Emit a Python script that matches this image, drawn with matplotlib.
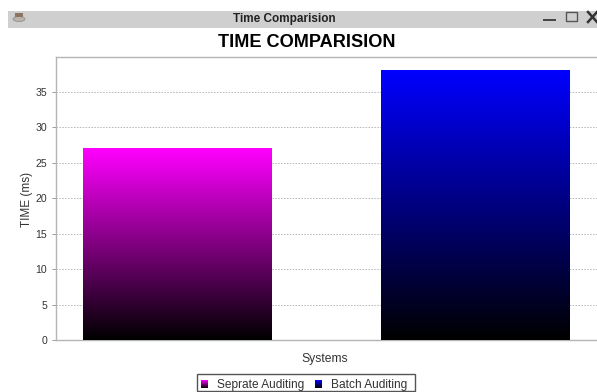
"""Bar chart comparing auditing times, drawn inside a mock window frame."""

import matplotlib

matplotlib.use("Agg")
import matplotlib.pyplot as plt
import numpy as np
from matplotlib.colors import LinearSegmentedColormap
from matplotlib.patches import Ellipse, Rectangle

plt.rcParams["font.family"] = ["Liberation Sans", "DejaVu Sans"]

systems = ["Seprate Auditing", "Batch Auditing"]
times_ms = [27, 38]
bar_colors = ["#ff00ff", "#0000ff"]
y_ticks = [0, 5, 10, 15, 20, 25, 30, 35]

W, H = 597, 392


def px_axes(fig, x0, y0, x1, y1, **kwargs):
    # pixel box measured from the top left corner
    return fig.add_axes([x0 / W, 1 - y1 / H, (x1 - x0) / W, (y1 - y0) / H], **kwargs)


def gradient(ax, extent, color):
    cmap = LinearSegmentedColormap.from_list("fade", ["#000000", color])
    ramp = np.linspace(1, 0, 256).reshape(-1, 1)
    ax.imshow(ramp, cmap=cmap, extent=extent, aspect="auto", zorder=3, vmin=0, vmax=1)


fig = plt.figure(figsize=(W / 100, H / 100), dpi=100, facecolor="white")

# window title bar
frame = px_axes(fig, 0, 0, W, H, zorder=0)
frame.set_xlim(0, W)
frame.set_ylim(H, 0)
frame.axis("off")
frame.add_patch(Rectangle((8, 11), W - 8, 17, facecolor="#cfcfcf", edgecolor="none"))
frame.add_patch(Ellipse((19, 19), 12, 5, facecolor="#b9b4ac", edgecolor="#8d8780", lw=0.5))
frame.add_patch(Rectangle((15, 13), 8, 4, facecolor="#8c7460", edgecolor="none"))
frame.text(284.5, 18.5, "Time Comparision", ha="center", va="center",
           fontsize=8.5, fontweight="bold", color="#222222")
frame.plot([544, 555], [19.5, 19.5], color="#444444", lw=1.4)
frame.add_patch(Rectangle((566, 12), 11, 9, facecolor="none", edgecolor="#555555", lw=1.0))
frame.plot([588, 597], [12, 22], color="#333333", lw=1.8)
frame.plot([588, 597], [22, 12], color="#333333", lw=1.8)
frame.text(306.5, 42, "TIME COMPARISION", ha="center", va="center",
           fontsize=13.1, fontweight="bold", color="black")

# plot area
ax = px_axes(fig, 56, 57, W, 340, zorder=1)
x = np.arange(len(systems))
bar_width = 0.634
bars = ax.bar(x, times_ms, width=bar_width, color="none", zorder=4)
for bar, color in zip(bars, bar_colors):
    left = bar.get_x()
    gradient(ax, [left, left + bar.get_width(), 0, bar.get_height()], color)

ax.set_xlim(-0.408, 1.408)
ax.set_ylim(0, 39.9)
ax.set_xticks([])
ax.set_yticks(y_ticks)
ax.tick_params(axis="y", labelsize=7.6, length=3, width=0.7, color="#999999",
               labelcolor="#333333", pad=3.5)
ax.grid(axis="y", color="#b5b5b5", linestyle=(0, (1.5, 1.5)), linewidth=0.7, zorder=1)
ax.set_axisbelow(True)
ax.spines["right"].set_visible(False)
for side in ["left", "top", "bottom"]:
    ax.spines[side].set_color("#b5b5b5")
    ax.spines[side].set_linewidth(1.0)

frame.text(27, 199, "TIME (ms)", rotation=90, ha="center", va="center",
           fontsize=8.5, color="#333333")
frame.text(325, 359, "Systems", ha="center", va="center", fontsize=8.7, color="#333333")

# legend box with gradient swatches
frame.add_patch(Rectangle((197, 374), 218, 17, facecolor="white", edgecolor="#555555", lw=1.0))
label_xs = [217, 331]
swatch_xs = [201, 315]
for name, color, lx, sx in zip(systems, bar_colors, label_xs, swatch_xs):
    frame.text(lx, 385, name, ha="left", va="center", fontsize=8.6, color="#333333")
    swatch = px_axes(fig, sx, 380, sx + 7, 388, zorder=2)
    gradient(swatch, [0, 1, 0, 1], color)
    swatch.axis("off")

fig.savefig("out.png", dpi=100)
